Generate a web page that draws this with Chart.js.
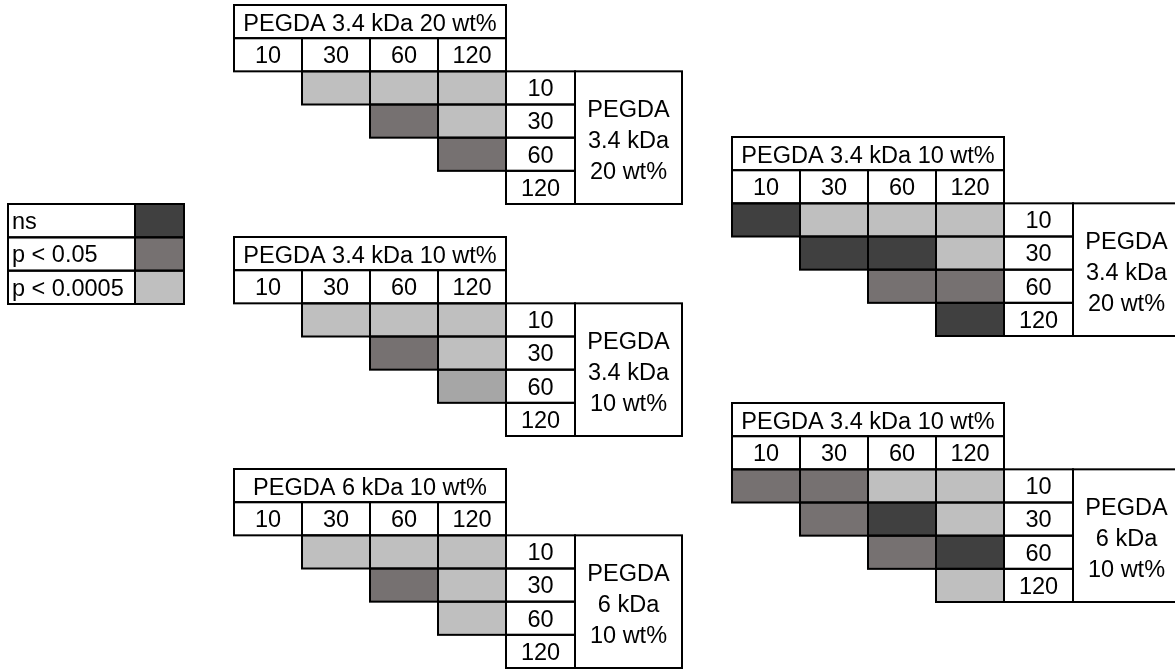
<!DOCTYPE html>
<html>
<head>
<meta charset="utf-8">
<script src="https://cdn.jsdelivr.net/npm/chart.js@4/dist/chart.umd.min.js"></script>
<style>
  html, body { margin: 0; padding: 0; background: #ffffff; }
  body { width: 1175px; height: 671px; overflow: hidden; position: relative; }
  canvas { position: absolute; display: block; }
</style>
</head>
<body>
<canvas id="legend" width="180" height="104" style="left:6px;top:202px"></canvas>
<canvas id="p1" width="452" height="203" style="left:232px;top:3px"></canvas>
<canvas id="p2" width="452" height="203" style="left:232px;top:235px"></canvas>
<canvas id="p3" width="452" height="203" style="left:232px;top:467px"></canvas>
<canvas id="p4" width="452" height="203" style="left:730px;top:135px"></canvas>
<canvas id="p5" width="452" height="203" style="left:730px;top:401px"></canvas>
<script>
// ===================== DATA =====================
// Exposure times (column labels and row labels of every matrix)
const TIMES = ['10', '30', '60', '120'];
// Significance levels shown in the legend
const LEVEL_LABELS = ['ns', 'p < 0.05', 'p < 0.0005'];
// Level codes in matrices: 0 = ns, 1 = p < 0.05, 2 = p < 0.0005,
// 3 = intermediate grey shade that appears in one cell; null = no comparison drawn

// Panel 1: PEGDA 3.4 kDa 20 wt% vs itself
const p1ColGroup = 'PEGDA 3.4 kDa 20 wt%';
const p1RowGroup = ['PEGDA', '3.4 kDa', '20 wt%'];
const p1Levels = [
  [null, 2, 2, 2],
  [null, null, 1, 2],
  [null, null, null, 1],
  [null, null, null, null]
];

// Panel 2: PEGDA 3.4 kDa 10 wt% vs itself
const p2ColGroup = 'PEGDA 3.4 kDa 10 wt%';
const p2RowGroup = ['PEGDA', '3.4 kDa', '10 wt%'];
const p2Levels = [
  [null, 2, 2, 2],
  [null, null, 1, 2],
  [null, null, null, 3],
  [null, null, null, null]
];

// Panel 3: PEGDA 6 kDa 10 wt% vs itself
const p3ColGroup = 'PEGDA 6 kDa 10 wt%';
const p3RowGroup = ['PEGDA', '6 kDa', '10 wt%'];
const p3Levels = [
  [null, 2, 2, 2],
  [null, null, 1, 2],
  [null, null, null, 2],
  [null, null, null, null]
];

// Panel 4: PEGDA 3.4 kDa 10 wt% (columns) vs PEGDA 3.4 kDa 20 wt% (rows)
const p4ColGroup = 'PEGDA 3.4 kDa 10 wt%';
const p4RowGroup = ['PEGDA', '3.4 kDa', '20 wt%'];
const p4Levels = [
  [0, 2, 2, 2],
  [null, 0, 0, 2],
  [null, null, 1, 1],
  [null, null, null, 0]
];

// Panel 5: PEGDA 3.4 kDa 10 wt% (columns) vs PEGDA 6 kDa 10 wt% (rows)
const p5ColGroup = 'PEGDA 3.4 kDa 10 wt%';
const p5RowGroup = ['PEGDA', '6 kDa', '10 wt%'];
const p5Levels = [
  [1, 1, 2, 2],
  [null, 1, 0, 2],
  [null, null, 1, 0],
  [null, null, null, 2]
];

// ===================== STYLE =====================
const LEVEL_COLORS = ['#404040', '#767171', '#bfbfbf', '#a6a6a6'];
const FONT_SIZE = 23.5;
const FONT = FONT_SIZE + 'px "Liberation Sans", Arial, Helvetica, sans-serif';
const CAP_HALF = FONT_SIZE * 0.716 / 2;
const LINE_W = 2;
const LINE_COLOR = '#000000';
// widths relative to one time column
const LABEL_COL_RATIO = 69 / 68;
const GROUP_COL_RATIO = 107 / 68;
const GROUP_LINE_OFFSETS = [-29, 2, 33];
const LEGEND_TEXT_FRAC = 127 / 176;

function drawText(ctx, s, x, y, align) {
  ctx.textAlign = align || 'center';
  ctx.textBaseline = 'alphabetic';
  ctx.fillText(s, x, y + CAP_HALF);
}

function baseOptions(xMax, yMin, yMax) {
  return {
    responsive: false,
    animation: false,
    events: [],
    devicePixelRatio: 1,
    indexAxis: 'y',
    layout: { padding: 2 },
    plugins: { legend: { display: false }, tooltip: { enabled: false }, title: { display: false } },
    scales: {
      x: { type: 'linear', min: 0, max: xMax, display: false, offset: false, grid: { display: false } },
      y: { type: 'linear', min: yMin, max: yMax, reverse: true, display: false, offset: false,
           grid: { display: false }, ticks: { stepSize: 1 } }
    }
  };
}

function makePanel(canvasId, colGroup, rowGroup, levels) {
  const nC = TIMES.length;
  const xLab = nC + LABEL_COL_RATIO;
  const xMax = xLab + GROUP_COL_RATIO;
  const datasets = LEVEL_COLORS.map(c => ({
    data: [], backgroundColor: c, borderWidth: 0, borderSkipped: false,
    grouped: false, barPercentage: 1, categoryPercentage: 1
  }));
  levels.forEach((row, i) => row.forEach((lvl, j) => {
    if (lvl !== null) datasets[lvl].data.push({ x: [j, j + 1], y: i + 0.5 });
  }));

  const frame = {
    id: 'frame_' + canvasId,
    afterDatasetsDraw(chart) {
      const ctx = chart.ctx;
      const X = v => chart.scales.x.getPixelForValue(v);
      const Y = v => chart.scales.y.getPixelForValue(v);
      ctx.save();
      ctx.lineWidth = LINE_W;
      ctx.strokeStyle = LINE_COLOR;
      ctx.fillStyle = '#000000';
      ctx.font = FONT;
      // column group title
      ctx.strokeRect(X(0), Y(-2), X(nC) - X(0), Y(-1) - Y(-2));
      drawText(ctx, colGroup, (X(0) + X(nC)) / 2, (Y(-2) + Y(-1)) / 2 + 1);
      // column headers
      TIMES.forEach((t, j) => {
        ctx.strokeRect(X(j), Y(-1), X(j + 1) - X(j), Y(0) - Y(-1));
        drawText(ctx, t, (X(j) + X(j + 1)) / 2, (Y(-1) + Y(0)) / 2);
      });
      // outlines of the comparison cells
      levels.forEach((row, i) => row.forEach((lvl, j) => {
        if (lvl !== null) ctx.strokeRect(X(j), Y(i), X(j + 1) - X(j), Y(i + 1) - Y(i));
      }));
      // row labels
      TIMES.forEach((t, i) => {
        ctx.strokeRect(X(nC), Y(i), X(xLab) - X(nC), Y(i + 1) - Y(i));
        drawText(ctx, t, (X(nC) + X(xLab)) / 2, (Y(i) + Y(i + 1)) / 2);
      });
      // row group box
      ctx.strokeRect(X(xLab), Y(0), X(xMax) - X(xLab), Y(nC) - Y(0));
      const cy = (Y(0) + Y(nC)) / 2;
      const cx = (X(xLab) + X(xMax)) / 2;
      rowGroup.forEach((s, k) => drawText(ctx, s, cx, cy + GROUP_LINE_OFFSETS[k]));
      ctx.restore();
    }
  };

  return new Chart(document.getElementById(canvasId), {
    type: 'bar',
    data: { datasets },
    options: baseOptions(xMax, -2, nC),
    plugins: [frame]
  });
}

function makeLegend(canvasId) {
  const data = LEVEL_LABELS.map((_, k) => ({ x: [LEGEND_TEXT_FRAC, 1], y: k + 0.5 }));
  const frame = {
    id: 'legendFrame',
    afterDatasetsDraw(chart) {
      const ctx = chart.ctx;
      const X = v => chart.scales.x.getPixelForValue(v);
      const Y = v => chart.scales.y.getPixelForValue(v);
      ctx.save();
      ctx.lineWidth = LINE_W;
      ctx.strokeStyle = LINE_COLOR;
      ctx.fillStyle = '#000000';
      ctx.font = FONT;
      LEVEL_LABELS.forEach((s, k) => {
        ctx.strokeRect(X(0), Y(k), X(LEGEND_TEXT_FRAC) - X(0), Y(k + 1) - Y(k));
        ctx.strokeRect(X(LEGEND_TEXT_FRAC), Y(k), X(1) - X(LEGEND_TEXT_FRAC), Y(k + 1) - Y(k));
        drawText(ctx, s, X(0) + 4, (Y(k) + Y(k + 1)) / 2, 'left');
      });
      ctx.restore();
    }
  };
  return new Chart(document.getElementById(canvasId), {
    type: 'bar',
    data: { datasets: [{
      data, backgroundColor: LEVEL_COLORS.slice(0, LEVEL_LABELS.length),
      borderWidth: 0, borderSkipped: false, grouped: false, barPercentage: 1, categoryPercentage: 1
    }] },
    options: baseOptions(1, 0, LEVEL_LABELS.length),
    plugins: [frame]
  });
}

makeLegend('legend');
makePanel('p1', p1ColGroup, p1RowGroup, p1Levels);
makePanel('p2', p2ColGroup, p2RowGroup, p2Levels);
makePanel('p3', p3ColGroup, p3RowGroup, p3Levels);
makePanel('p4', p4ColGroup, p4RowGroup, p4Levels);
makePanel('p5', p5ColGroup, p5RowGroup, p5Levels);
</script>
</body>
</html>
